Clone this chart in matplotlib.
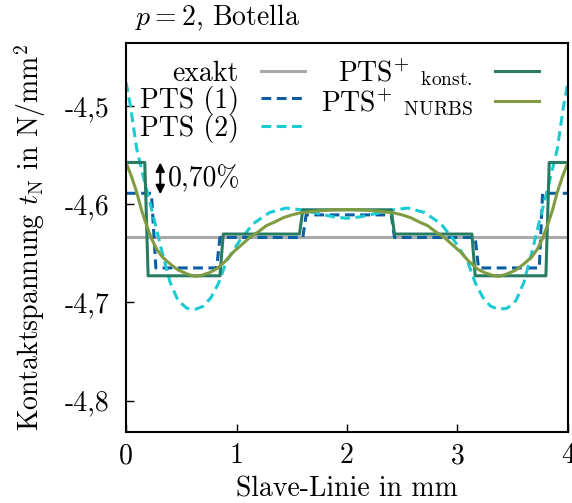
import matplotlib
matplotlib.use("Agg")
import matplotlib.pyplot as plt

plt.rcParams['font.family'] = ['cmr10', 'DejaVu Serif']
plt.rcParams['mathtext.fontset'] = 'cm'
plt.rcParams['axes.unicode_minus'] = False
plt.rcParams['axes.formatter.use_mathtext'] = True

# exakte Loesung
x_exakt = [0, 4]
y_exakt = [-4.633, -4.633]

# PTS (1): stueckweise konstant
x_pts1 = [0, 0.23, 0.27, 0.82, 0.85, 1.60, 1.63, 2.40, 2.43, 3.16, 3.19, 3.74, 3.77, 4]
y_pts1 = [-4.589, -4.589, -4.665, -4.665, -4.634, -4.634, -4.611, -4.611,
          -4.634, -4.634, -4.665, -4.665, -4.589, -4.589]

# PTS (2)
x_pts2 = [0, 0.04, 0.097, 0.17, 0.247, 0.32, 0.40, 0.47, 0.55, 0.63, 0.70, 0.77, 0.84,
          0.91, 1.03, 1.15, 1.30, 1.45, 1.60, 1.755, 1.88, 2.00,
          2.12, 2.245, 2.40, 2.55, 2.70, 2.85, 2.97, 3.09, 3.16, 3.23, 3.30, 3.37,
          3.45, 3.53, 3.60, 3.68, 3.753, 3.83, 3.903, 3.96, 4.00]
y_pts2 = [-4.476, -4.500, -4.544, -4.578, -4.612, -4.646, -4.680, -4.698, -4.706, -4.707,
          -4.704, -4.695, -4.680, -4.658, -4.637, -4.620, -4.6085, -4.604, -4.606, -4.610,
          -4.613, -4.6145,
          -4.613, -4.610, -4.606, -4.604, -4.6085, -4.620, -4.637, -4.658, -4.680, -4.695,
          -4.704, -4.707, -4.706, -4.698, -4.680, -4.646, -4.612, -4.578, -4.544, -4.500,
          -4.476]

# PTS+ konst.
x_konst = [0, 0.17, 0.20, 0.85, 0.88, 1.57, 1.60, 2.40, 2.43, 3.13, 3.16, 3.80, 3.83, 4]
y_konst = [-4.5576, -4.5576, -4.673, -4.673, -4.6305, -4.6305, -4.6058, -4.6058,
           -4.6305, -4.6305, -4.673, -4.673, -4.5576, -4.5576]

# PTS+ NURBS
x_nurbs = [0, 0.05, 0.097, 0.14, 0.187, 0.23, 0.277, 0.33, 0.40, 0.47, 0.55, 0.62, 0.67,
           0.75, 0.82, 0.90, 0.97, 1.05, 1.12, 1.20, 1.27, 1.35, 1.42, 1.50, 1.575,
           1.65, 1.73, 1.85, 2.00,
           2.15, 2.27, 2.35, 2.425, 2.50, 2.58, 2.65, 2.73, 2.80, 2.88, 2.95, 3.03,
           3.10, 3.18, 3.25, 3.33, 3.38, 3.45, 3.53, 3.60, 3.67, 3.723, 3.77, 3.813,
           3.86, 3.903, 3.95, 4.00]
y_nurbs = [-4.5576, -4.572, -4.588, -4.606, -4.622, -4.635, -4.6458, -4.654, -4.661,
           -4.667, -4.671, -4.6735, -4.673, -4.670, -4.666, -4.658, -4.649, -4.641,
           -4.634, -4.628, -4.622, -4.618, -4.614, -4.611, -4.609, -4.608, -4.607,
           -4.606, -4.6055,
           -4.606, -4.607, -4.608, -4.609, -4.611, -4.614, -4.618, -4.622, -4.628,
           -4.634, -4.641, -4.649, -4.658, -4.666, -4.670, -4.673, -4.6735, -4.671,
           -4.667, -4.661, -4.654, -4.6458, -4.635, -4.622, -4.606, -4.588, -4.572,
           -4.5576]

x_ticks = [0, 1, 2, 3, 4]
x_ticklabels = ['0', '1', '2', '3', '4']
y_ticks = [-4.8, -4.7, -4.6, -4.5]
y_ticklabels = ['-4,8', '-4,7', '-4,6', '-4,5']

fs = 20

fig = plt.figure(figsize=(5.72, 5.03), dpi=100)
ax = fig.add_axes([0.2203, 0.1412, 0.7727, 0.7733])

lw = 2.2
ax.plot(x_exakt, y_exakt, color='#aaaaaa', lw=lw, label='exakt')
ax.plot(x_pts1, y_pts1, color='#0b5ea3', lw=lw, ls=(0, (3.2, 1.8)), label='PTS (1)')
ax.plot(x_pts2, y_pts2, color='#1ccbd2', lw=lw, ls=(0, (3.2, 1.8)), label='PTS (2)')
ax.plot(x_konst, y_konst, color='#287c61', lw=lw,
        label=r'$\mathrm{PTS}^{+}$ $_{\mathrm{konst.}}$')
ax.plot(x_nurbs, y_nurbs, color='#7f9c42', lw=lw,
        label=r'$\mathrm{PTS}^{+}$ $_{\mathrm{NURBS}}$')

ax.annotate('', xy=(0.31, -4.5576), xytext=(0.31, -4.590),
            arrowprops=dict(arrowstyle='<|-|>', color='black', lw=1.5,
                            shrinkA=0, shrinkB=0, mutation_scale=13))
ax.text(0.38, -4.5735, '0,70%', fontsize=fs, va='center', ha='left')

ax.set_xlim(0, 4)
ax.set_ylim(-4.832, -4.436)
ax.set_xticks(x_ticks)
ax.set_xticklabels(x_ticklabels)
ax.set_yticks(y_ticks)
ax.set_yticklabels(y_ticklabels)
ax.tick_params(direction='in', length=6, width=1, labelsize=fs, top=False, right=False)
ax.tick_params(axis='y', pad=12)
ax.tick_params(axis='x', pad=8)
for s in ax.spines.values():
    s.set_linewidth(1.5)

ax.set_xlabel('Slave-Linie in mm', fontsize=fs, labelpad=5)
ax.set_ylabel(r'Kontaktspannung $t_\mathrm{N}$ in N/mm$^2$', fontsize=fs, labelpad=12)
ax.text(0.02, 1.025, r'$p = 2$, Botella', transform=ax.transAxes, fontsize=fs,
        ha='left', va='bottom')

ax.legend(loc='upper left', bbox_to_anchor=(-0.01, 1.014), ncol=2, frameon=False,
          markerfirst=False, fontsize=fs, handlelength=1.6, columnspacing=0.55,
          labelspacing=-0.04, handletextpad=0.8, borderpad=0.15)

fig.savefig('out.png', dpi=100)
